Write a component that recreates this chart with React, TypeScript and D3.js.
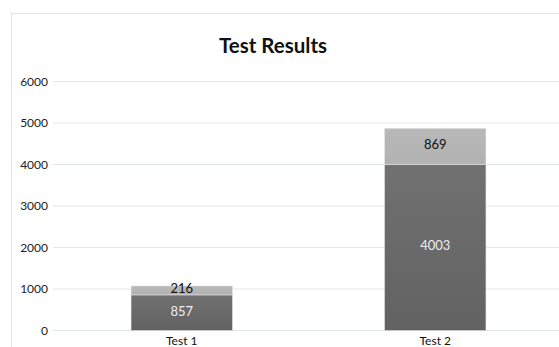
import React from 'react';
import * as d3 from 'd3';

const categories = ['Test 1', 'Test 2'];
const baseValues = [857, 4003];
const topValues = [216, 869];
const yTicks = [0, 1000, 2000, 3000, 4000, 5000, 6000];

const W = 559;
const H = 347;
const font = 'Lato, "Open Sans", sans-serif';

export default function App() {
  const x = d3.scaleBand<string>().domain(categories).range([55, 562]).paddingInner(0.6).paddingOuter(0.3);
  const y = d3.scaleLinear().domain([0, 6000]).range([330.5, 81.5]);
  const bw = x.bandwidth();

  return (
    <svg width={W} height={H} style={{ position: 'absolute', left: 0, top: 0, background: '#fff' }}>
      <defs>
        <linearGradient id="baseGrad" x1="0" y1="0" x2="0" y2="1">
          <stop offset="0" stopColor="#717171" />
          <stop offset="1" stopColor="#626262" />
        </linearGradient>
        <linearGradient id="topGrad" x1="0" y1="0" x2="0" y2="1">
          <stop offset="0" stopColor="#b8b8b8" />
          <stop offset="1" stopColor="#b2b2b2" />
        </linearGradient>
      </defs>
      {/* chart border */}
      <rect x={11.5} y={13.5} width={W + 20} height={H + 20} fill="#fff" stroke="#dfe4ea" />

      <text x={273} y={53} textAnchor="middle" fontFamily={font} fontWeight="bold" fontSize={20.5} fill="#111">
        Test Results
      </text>

      {/* gridlines + y labels */}
      {yTicks.map(t => (
        <g key={t}>
          <line x1={53} x2={W} y1={y(t)} y2={y(t)} stroke="#e1e6ee" strokeWidth={1} />
          <text x={48} y={y(t)} dy="0.35em" textAnchor="end" fontFamily={font} fontSize={12} fill="#222">
            {t}
          </text>
        </g>
      ))}

      {/* bars */}
      {categories.map((c, i) => {
        const x0 = x(c)!;
        const b = baseValues[i];
        const tp = topValues[i];
        const yb = y(b);
        const yt = y(b + tp);
        return (
          <g key={c}>
            <rect x={x0} y={yb} width={bw} height={y(0) - yb} fill="url(#baseGrad)" stroke="#e8e8e8" strokeWidth={0.5} />
            <rect x={x0} y={yt} width={bw} height={yb - yt} fill="url(#topGrad)" stroke="#e8e8e8" strokeWidth={0.5} />
            <text x={x0 + bw / 2} y={(yb + y(0)) / 2 - 1.5} dy="0.35em" textAnchor="middle" fontFamily={font} fontSize={13} fill="#eeeeee">
              {b}
            </text>
            <text x={x0 + bw / 2} y={(yt + yb) / 2 - 2} dy="0.35em" textAnchor="middle" fontFamily={font} fontSize={13} fill="#111">
              {tp}
            </text>
            <text x={x0 + bw / 2} y={341} dy="0.35em" textAnchor="middle" fontFamily={font} fontSize={12} fill="#111">
              {c}
            </text>
          </g>
        );
      })}
    </svg>
  );
}
